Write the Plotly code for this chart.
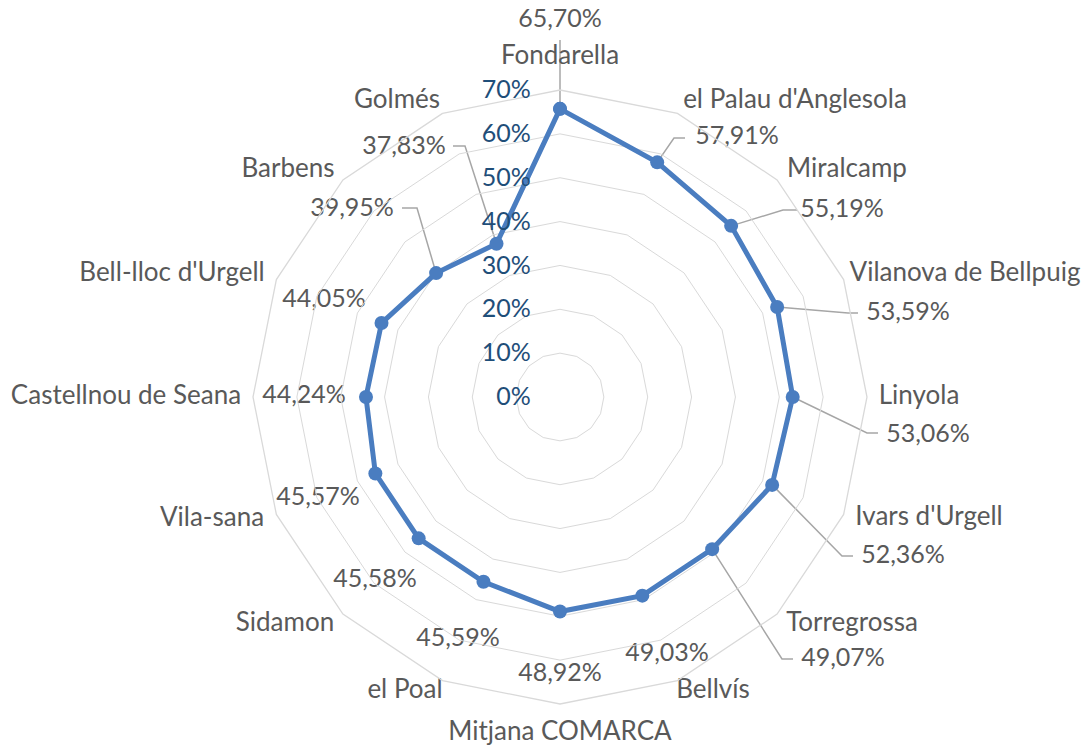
import math
import plotly.graph_objects as go

# ---- data ----
categories = ["Fondarella", "el Palau d'Anglesola", "Miralcamp", "Vilanova de Bellpuig",
              "Linyola", "Ivars d'Urgell", "Torregrossa", "Bellvís", "Mitjana COMARCA",
              "el Poal", "Sidamon", "Vila-sana", "Castellnou de Seana", "Bell-lloc d'Urgell",
              "Barbens", "Golmés"]
values = [65.70, 57.91, 55.19, 53.59, 53.06, 52.36, 49.07, 49.03, 48.92,
          45.59, 45.58, 45.57, 44.24, 44.05, 39.95, 37.83]
radial_ticks = [0, 10, 20, 30, 40, 50, 60, 70]
radial_ticktext = [f"{t}%" for t in radial_ticks]

# ---- label placement (pixel offsets from the chart centre, y downwards) ----
label_offsets = [(0, -376), (177, -259), (282, -186), (348, -83), (368, 39), (343, 160),
                 (283, 263), (107, 258), (0, 278), (-102, 243), (-185, 184), (-242, 102),
                 (-256, 0), (-236, -96), (-208, -187), (-156, -249)]
category_offsets = [(0, -340), (235, -296), (287, -227), (405, -123), (359, 0), (369, 121),
                    (292, 227), (153, 294), (0, 336), (-155, 294), (-275, 227), (-348, 122),
                    (-434, 0), (-388, -123), (-272, -227), (-163, -296)]
# leader lines: index -> list of pixel offsets (elbow, end)
leader_paths = {
    0: [(0, -357)],
    1: [(114, -259), (125, -259)],
    2: [(223, -187), (237, -187)],
    3: [(288, -84), (298, -84)],
    4: [(307, 36), (318, 36)],
    5: [(282, 159), (293, 159)],
    6: [(222, 262), (233, 262)],
    14: [(-143, -189), (-158, -189)],
    15: [(-95, -251), (-107, -251)],
}

R_MAX = 70      # radial range
R_PX = 307      # pixel radius of the polar area
STEP = 360 / len(categories)
W, H = 1081, 740            # page body adds an 8px margin
CX, CY = 552, 389           # polar centre in figure pixels (from top-left)

TEXT = "#595959"
FONT = "Lato"
BLUE = "#4A7DC0"

fig = go.Figure()

# leader lines (full-figure cartesian overlay in pixel units around the centre)
for idx, path in leader_paths.items():
    ang = math.radians(idx * STEP)
    rp = values[idx] / R_MAX * R_PX
    xs = [rp * math.sin(ang)] + [dx for dx, dy in path]
    ys = [rp * math.cos(ang)] + [-dy for dx, dy in path]
    fig.add_trace(go.Scatter(
        x=xs, y=ys, mode="lines", line=dict(color="#A6A6A6", width=1.5),
        showlegend=False, hoverinfo="skip", cliponaxis=False))

# data labels
fig.add_trace(go.Scatter(
    x=[dx for dx, dy in label_offsets], y=[-dy for dx, dy in label_offsets],
    mode="text",
    text=[f"{v:.2f}".replace(".", ",") + "%" for v in values],
    textposition="middle center",
    textfont=dict(family=FONT, size=25, color=TEXT),
    showlegend=False, hoverinfo="skip", cliponaxis=False))

# category labels
fig.add_trace(go.Scatter(
    x=[dx for dx, dy in category_offsets], y=[-dy for dx, dy in category_offsets],
    mode="text", text=categories,
    textposition="middle center",
    textfont=dict(family=FONT, size=26, color=TEXT),
    showlegend=False, hoverinfo="skip", cliponaxis=False))

# main series
fig.add_trace(go.Scatterpolar(
    r=values + [values[0]], theta=categories + [categories[0]],
    mode="lines+markers",
    line=dict(color=BLUE, width=5),
    marker=dict(color=BLUE, size=14),
    subplot="polar", showlegend=False, hoverinfo="skip"))

fig.update_layout(
    width=W, height=H,
    margin=dict(l=0, r=0, t=0, b=0),
    paper_bgcolor="white",
    plot_bgcolor="rgba(0,0,0,0)",
    font=dict(family=FONT, size=25, color=TEXT),
    xaxis=dict(range=[-CX, W - CX], visible=False, fixedrange=True),
    yaxis=dict(range=[-(H - CY), CY], visible=False, fixedrange=True),
    polar=dict(
        domain=dict(x=[(CX - R_PX) / W, (CX + R_PX) / W],
                    y=[(H - CY - R_PX) / H, (H - CY + R_PX) / H]),
        bgcolor="rgba(0,0,0,0)",
        gridshape="linear",
        radialaxis=dict(
            range=[0, R_MAX], tickvals=radial_ticks, ticktext=radial_ticktext,
            angle=90, tickangle=90, side="counterclockwise",
            showline=False, gridcolor="#D9D9D9", gridwidth=1.3,
            ticks="outside", ticklen=20, tickcolor="rgba(0,0,0,0)",
            tickfont=dict(family=FONT, size=25, color="#1F4E79")),
        angularaxis=dict(
            type="category", categoryarray=categories,
            rotation=90, direction="clockwise",
            showgrid=False, showline=True, linecolor="#D9D9D9", linewidth=1.3,
            ticks="", showticklabels=False),
    ),
)

fig.write_html("out.html")
